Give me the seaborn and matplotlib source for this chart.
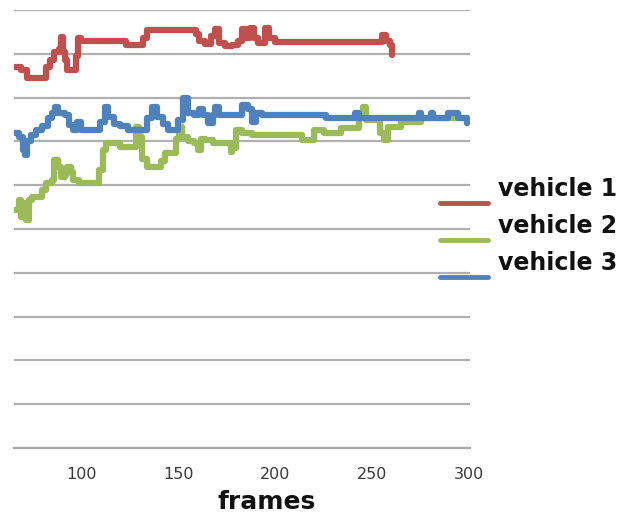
import matplotlib
matplotlib.use("Agg")
import matplotlib.pyplot as plt
from matplotlib.lines import Line2D
import seaborn as sns
import pandas as pd

# ---- data ----
v1_frames = [66, 69, 72, 80, 82, 84, 86, 88.5, 89.5, 90.5, 92, 93, 96, 97.5, 98.5, 100,
             121, 123, 130, 132, 134, 157, 159, 161, 164, 167, 169, 171, 174, 178, 181,
             183, 185, 187, 189, 191, 193, 195, 197, 200, 254, 255, 257, 259, 260]
v1_values = [87.0, 86.3, 84.5, 84.5, 87.0, 88.6, 90.4, 91.0, 93.8, 90.4, 88.5, 86.3, 86.3, 89.5, 93.6, 93.0,
             93.0, 92.0, 92.0, 93.5, 95.4, 95.4, 94.5, 93.0, 92.2, 94.0, 95.6, 92.5, 91.8, 92.0, 93.0,
             95.6, 93.5, 95.8, 93.5, 92.5, 92.5, 95.8, 93.6, 92.8, 92.8, 94.2, 93.0, 92.0, 89.7]

v2_frames = [66, 68, 69, 70, 71.5, 73, 75, 80, 82, 85, 86, 88, 89.5, 92, 93, 95, 96, 99,
             108, 109.5, 111.5, 113, 116.5, 120, 127, 128.5, 130, 131.5, 134, 140, 141, 143,
             147.5, 149, 150.5, 152, 155, 158, 160, 162, 164, 168, 177, 178, 180, 183, 188,
             212, 214, 219, 220, 225, 233, 234, 240, 243, 245, 247, 252, 254, 256, 258, 264,
             265, 273, 275, 279, 280, 281, 298, 299]
v2_values = [54.3, 56.6, 52.7, 56.0, 52.1, 56.6, 57.3, 58.9, 60.5, 61.2, 65.8, 64.2, 61.9, 62.5, 64.2, 63.0, 61.2, 60.5,
             60.5, 63.5, 68.0, 69.6, 69.6, 68.7, 68.7, 73.3, 71.0, 66.0, 64.2, 64.2, 65.5, 67.4,
             67.4, 70.5, 73.3, 71.0, 70.0, 69.6, 68.0, 70.5, 70.3, 69.6, 67.5, 68.5, 72.6, 72.0, 71.5,
             71.5, 70.3, 70.3, 72.6, 72.0, 72.0, 73.1, 73.1, 75.5, 77.9, 74.9, 74.9, 72.0, 70.3, 73.3, 73.3,
             74.4, 74.4, 75.3, 75.3, 76.0, 75.3, 75.3, 74.2]

v3_frames = [66, 68, 70, 71, 72, 74, 77, 80, 83, 85, 86.5, 88, 92, 94, 96, 98, 100,
             108, 110, 112.4, 114, 117, 120, 124, 128, 134, 136.6, 139, 142, 145, 150,
             152.6, 155, 158, 161, 163, 165.5, 168, 169, 171, 181, 183, 186, 188, 190, 193,
             225, 226, 240, 241, 243, 273, 274, 275, 279, 280, 281, 288, 289, 293, 294, 298, 299]
v3_values = [72.0, 71.0, 68.0, 66.9, 70.0, 71.5, 72.6, 73.5, 75.3, 76.5, 77.9, 76.5, 76.0, 73.7, 72.6, 74.5, 72.6,
             72.6, 74.5, 77.9, 75.5, 74.0, 73.5, 72.6, 72.6, 75.3, 77.9, 75.5, 74.0, 72.6, 75.0,
             79.9, 76.5, 76.0, 77.5, 76.0, 74.2, 76.0, 77.9, 76.0, 76.0, 78.3, 77.5, 74.4, 76.5, 76.0,
             76.0, 75.3, 75.3, 76.5, 75.3, 75.3, 76.5, 75.3, 75.3, 76.5, 75.3, 75.3, 76.5, 76.5, 75.3, 75.3, 74.2]

series_names = ["vehicle 1", "vehicle 2", "vehicle 3"]
series_colors = ["#c0504d", "#9bbb59", "#4f81bd"]
x_ticks = [100, 150, 200, 250, 300]

df = pd.concat([
    pd.DataFrame({"frames": v1_frames, "value": v1_values, "vehicle": series_names[0]}),
    pd.DataFrame({"frames": v2_frames, "value": v2_values, "vehicle": series_names[1]}),
    pd.DataFrame({"frames": v3_frames, "value": v3_values, "vehicle": series_names[2]}),
])

sns.set_style("white")
fig = plt.figure(figsize=(6.26, 5.17), dpi=100)
ax = fig.add_axes([14 / 626, 1 - 448 / 517, (470 - 14) / 626, (448 - 10) / 517])

sns.lineplot(data=df, x="frames", y="value", hue="vehicle",
             palette=dict(zip(series_names, series_colors)),
             estimator=None, sort=True, drawstyle="steps-post",
             linewidth=4.5, legend=False, ax=ax)

ax.set_xlim(65.5, 300.3)
ax.set_ylim(0, 100)
ax.set_yticks(range(0, 101, 10))
ax.yaxis.grid(True, color="#b0b0b0", linewidth=1.6)
ax.set_axisbelow(True)
ax.set_yticklabels([])
ax.tick_params(axis="y", length=0)
ax.set_xticks(x_ticks)
ax.set_xticklabels([str(t) for t in x_ticks])
ax.tick_params(axis="x", direction="out", length=5, width=1.5, color="#a0a0a0",
               labelsize=11.5, labelcolor="#3a3a3a", pad=9)
for s in ["left", "right", "top"]:
    ax.spines[s].set_visible(False)
ax.spines["bottom"].set_color("#a8a8a8")
ax.spines["bottom"].set_linewidth(1.6)
ax.set_xlabel("")
ax.set_ylabel("")

fig.text(267 / 626, 1 - 502 / 517, "frames", ha="center", va="center",
         fontsize=18, fontweight="bold", color="#111111", family="DejaVu Sans")

# legend keys
for i, (name, col) in enumerate(zip(series_names, series_colors)):
    ly = 1 - (203 + 37 * i) / 517
    fig.add_artist(Line2D([440 / 626, 488 / 626], [ly, ly], color=col, linewidth=3.5,
                          transform=fig.transFigure))
    fig.text(498 / 626, 1 - (189 + 37 * i) / 517, name, ha="left", va="center",
             fontsize=17, fontweight="bold", color="#111111", family="DejaVu Sans")

fig.savefig("out.png", dpi=100)
